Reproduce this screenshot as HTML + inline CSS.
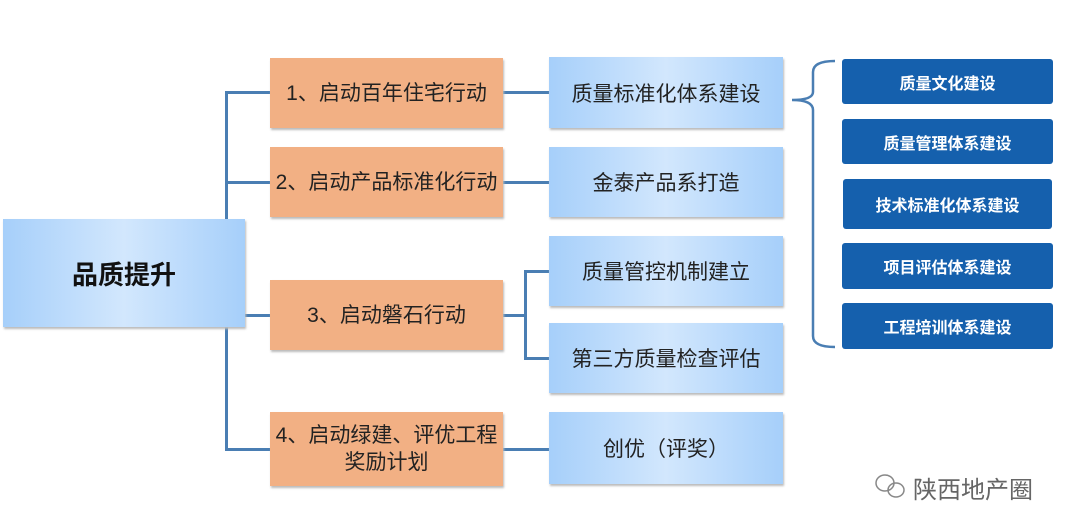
<!DOCTYPE html>
<html><head><meta charset="utf-8"><style>
body{margin:0;width:1080px;height:532px;background:#fff;position:relative;overflow:hidden;font-family:"Liberation Sans","Noto Sans CJK SC",sans-serif}
.b{position:absolute;display:flex;align-items:center;justify-content:center;text-align:center;box-sizing:border-box}
.o{background:#f2b084;box-shadow:1px 2px 2px #bbb;font-size:21px;color:#222;line-height:27px}
.l{background:linear-gradient(90deg,#a6cffa,#d2e7fd 50%,#a6cffa);box-shadow:1px 2px 2px #bbb;font-size:21px;color:#222}
.d{background:#1560ad;border-radius:3px;color:#fff;font-weight:bold;font-size:16px}
.h{position:absolute;background:#4a7eb3;height:3px}
.v{position:absolute;background:#4a7eb3;width:3px}
</style></head><body>
<div class="v" style="left:225px;top:91px;height:360px"></div>
<div class="h" style="left:225px;top:91px;width:46px"></div>
<div class="h" style="left:225px;top:181px;width:46px"></div>
<div class="h" style="left:225px;top:314px;width:46px"></div>
<div class="h" style="left:225px;top:448px;width:46px"></div>
<div class="h" style="left:503px;top:91px;width:47px"></div>
<div class="h" style="left:503px;top:181px;width:47px"></div>
<div class="h" style="left:503px;top:314px;width:24px"></div>
<div class="v" style="left:524px;top:270px;height:90px"></div>
<div class="h" style="left:524px;top:270px;width:26px"></div>
<div class="h" style="left:524px;top:357px;width:26px"></div>
<div class="h" style="left:503px;top:448px;width:47px"></div>

<div class="b l" style="left:3px;top:219px;width:242px;height:108px;font-size:26px;font-weight:bold;color:#111">品质提升</div>

<div class="b o" style="left:270px;top:58px;width:233px;height:70px">1、启动百年住宅行动</div>
<div class="b o" style="left:270px;top:147px;width:233px;height:70px">2、启动产品标准化行动</div>
<div class="b o" style="left:270px;top:280px;width:233px;height:70px">3、启动磐石行动</div>
<div class="b o" style="left:270px;top:412px;width:233px;height:74px">4、启动绿建、评优工程<br>奖励计划</div>

<div class="b l" style="left:549px;top:57px;width:234px;height:71px">质量标准化体系建设</div>
<div class="b l" style="left:549px;top:147px;width:234px;height:70px">金泰产品系打造</div>
<div class="b l" style="left:549px;top:236px;width:234px;height:70px">质量管控机制建立</div>
<div class="b l" style="left:549px;top:323px;width:234px;height:70px">第三方质量检查评估</div>
<div class="b l" style="left:549px;top:412px;width:234px;height:72px">创优（评奖）</div>

<svg style="position:absolute;left:0;top:0" width="1080" height="532">
<path d="M835 61 Q813 61 813 72 L813 92 Q813 100 792 100 Q813 100 813 110 L813 336 Q813 347 835 347" fill="none" stroke="#4a7eb3" stroke-width="2.5"/>
<g fill="none" stroke="#888" stroke-width="1.5"><ellipse cx="885" cy="483" rx="9" ry="8"/><ellipse cx="896" cy="490" rx="8" ry="7"/></g>
</svg>

<div class="b d" style="left:842px;top:59px;width:211px;height:45px">质量文化建设</div>
<div class="b d" style="left:842px;top:119px;width:211px;height:45px">质量管理体系建设</div>
<div class="b d" style="left:843px;top:179px;width:209px;height:50px">技术标准化体系建设</div>
<div class="b d" style="left:842px;top:243px;width:211px;height:46px">项目评估体系建设</div>
<div class="b d" style="left:842px;top:303px;width:211px;height:46px">工程培训体系建设</div>

<div style="position:absolute;left:913px;top:470px;font-size:24px;color:#666">陕西地产圈</div>
</body></html>
